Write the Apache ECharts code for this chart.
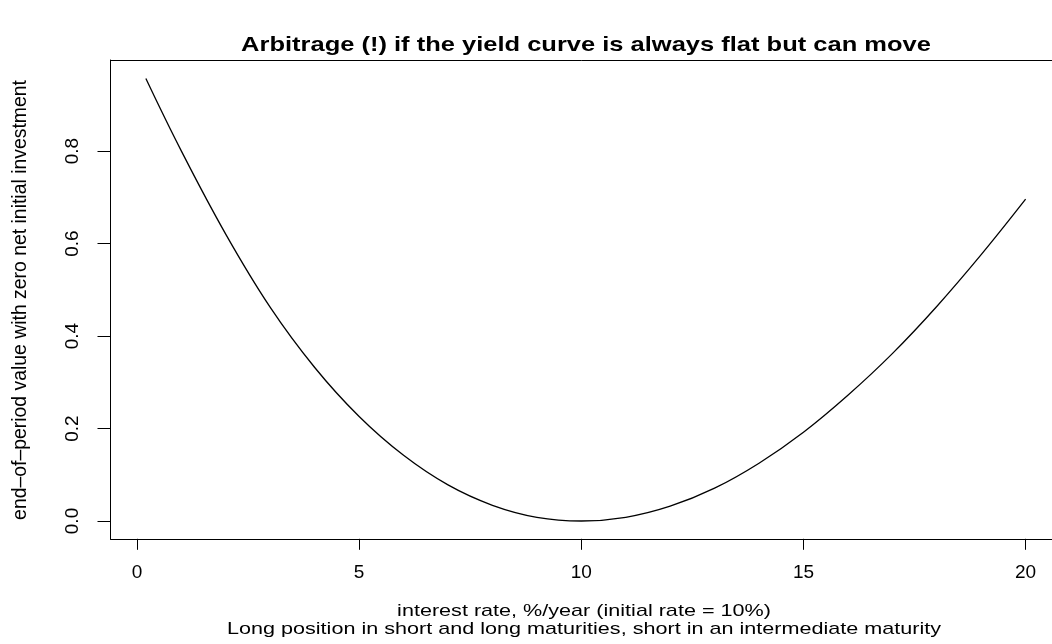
<!DOCTYPE html>
<html>
<head>
<meta charset="utf-8">
<script src="https://cdn.jsdelivr.net/npm/echarts@6/dist/echarts.min.js"></script>
<style>
html,body{margin:0;padding:0;background:#fff;}
#chart{width:1052px;height:644px;}
</style>
</head>
<body>
<div id="chart"></div>
<script>
// interest rate, %/year
var rates = [0.2, 1, 2, 3, 4, 5, 6, 7, 8, 9, 10, 11, 12, 13, 14, 15, 16, 17, 18, 19, 20];
// end-of-period value with zero net initial investment
var values = [0.957, 0.80, 0.62, 0.462, 0.332, 0.226, 0.142, 0.078, 0.034, 0.008, 0.0, 0.008, 0.032, 0.071, 0.125, 0.192, 0.272, 0.362, 0.464, 0.576, 0.696];
var xTicks = [0, 5, 10, 15, 20];
var yTicks = [0, 0.2, 0.4, 0.6, 0.8];

var titleText = 'Arbitrage (!) if the yield curve is always flat but can move';
var xTitle = 'interest rate, %/year (initial rate = 10%)';
var subTitle = 'Long position in short and long maturities, short in an intermediate maturity';
var yTitle = 'end\u2013of\u2013period value with zero net initial investment';

var FONT = '"Liberation Sans", Arial, Helvetica, sans-serif';
var chart = echarts.init(document.getElementById('chart'));
var pts = rates.map(function (r, i) { return [r, values[i]]; });

var X_MIN = -0.596, X_MAX = 20.594;
var lineSt = { color: '#000', width: 1 };

chart.setOption({
  animation: false,
  backgroundColor: '#fff',
  grid: { left: 110.5, top: 60, right: 0, bottom: 105.2, show: false },
  xAxis: [{
    type: 'value', min: X_MIN, max: X_MAX, position: 'bottom',
    splitLine: { show: false },
    axisLine: { show: true, onZero: false, lineStyle: lineSt },
    axisTick: { show: true, customValues: xTicks, length: 11, inside: false, lineStyle: lineSt },
    axisLabel: { customValues: xTicks, margin: 24, fontFamily: FONT, fontSize: 19, color: '#000' }
  }, {
    type: 'value', min: X_MIN, max: X_MAX, position: 'top',
    splitLine: { show: false },
    axisLine: { show: true, onZero: false, lineStyle: lineSt },
    axisTick: { show: false },
    axisLabel: { show: false }
  }],
  yAxis: {
    type: 'value', min: -0.0385, max: 0.997,
    splitLine: { show: false },
    axisLine: { show: true, onZero: false, lineStyle: lineSt },
    axisTick: { show: true, customValues: yTicks, length: 13, inside: false, lineStyle: lineSt },
    axisLabel: {
      customValues: yTicks, margin: 28, rotate: 90, fontFamily: FONT, fontSize: 19, color: '#000',
      formatter: function (v) { return v.toFixed(1); }
    }
  },
  series: [{
    type: 'line', data: pts, smooth: 0.4, showSymbol: false, symbol: 'none',
    lineStyle: { color: '#000', width: 1.3 }, clip: false
  }],
  graphic: [
    { type: 'text', x: 586, y: 45, scaleX: 1.25, style: { text: titleText, fontFamily: FONT, fontWeight: 'bold', fontSize: 20.4, fill: '#000', align: 'center', verticalAlign: 'middle' } },
    { type: 'text', x: 584, y: 611, scaleX: 1.27, style: { text: xTitle, fontFamily: FONT, fontSize: 17, fill: '#000', align: 'center', verticalAlign: 'middle' } },
    { type: 'text', x: 584, y: 629, scaleX: 1.27, style: { text: subTitle, fontFamily: FONT, fontSize: 17, fill: '#000', align: 'center', verticalAlign: 'middle' } },
    { type: 'text', x: 21, y: 300, rotation: Math.PI / 2, style: { text: yTitle, fontFamily: FONT, fontSize: 19.4, fill: '#000', align: 'center', verticalAlign: 'middle' } }
  ]
});
</script>
</body>
</html>
